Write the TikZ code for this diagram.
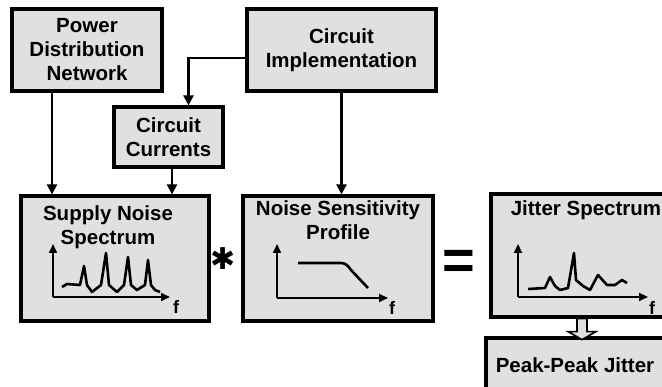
\documentclass[tikz,border=0pt]{standalone}
\usepackage{fontspec}
\setmainfont{Liberation Sans}
\newfontfamily\symfont{DejaVu Sans}
\usetikzlibrary{arrows.meta,positioning}

\tikzset{
  block/.style={draw, line width=3.2pt, fill=black!12, inner sep=0pt},
  lbl/.style={font=\fontsize{20.5}{24}\selectfont\bfseries, align=center, inner sep=0pt},
  arr/.style={line width=2.3pt, -{Triangle[length=10pt,width=10pt]}},
  axis/.style={line width=2.2pt, -{Triangle[length=9pt,width=8pt]}},
  curve/.style={line width=2.6pt, line join=round},
  flbl/.style={font=\fontsize{18}{18}\selectfont\bfseries, inner sep=0pt, anchor=north west},
  blockarr/.style={line width=1.6pt, fill=black!12, line join=miter},
}

\begin{document}
\begin{tikzpicture}[x=1pt,y=-1pt]
  \useasboundingbox (0,0) rectangle (662,387);
  \clip (0,0) rectangle (662,387);

  % upper row
  \node[block, lbl, minimum width=150pt, minimum height=82pt] (pdn) at (87,50) {Power\\Distribution\\Network};
  \node[block, lbl, minimum width=189pt, minimum height=82pt] (ci) at (341.5,50) {Circuit\\Implementation};
  \node[block, lbl, minimum width=109pt, minimum height=60pt] (cc) at (168.5,137) {Circuit\\Currents};

  % spectra
  \node[block, minimum width=188pt, minimum height=125pt] (sns) at (115,258.5) {};
  \node[block, minimum width=190pt, minimum height=125pt] (nsp) at (338,258.5) {};
  \node[block, minimum width=190pt, minimum height=123pt] (js) at (586,255.5) {};
  \node[block, lbl, minimum width=178pt, minimum height=54pt] (ppj) at (575,365) {Peak-Peak Jitter};

  \node[lbl, below=11pt of sns.north, xshift=-7pt] (snsTitle) {Supply Noise\\Spectrum};
  \node[lbl, below=6.5pt of nsp.north] (nspTitle) {Noise Sensitivity\\Profile};
  \node[lbl, below=8.5pt of js.north] (jsTitle) {Jitter Spectrum};

  \node[font=\symfont\fontsize{30}{30}\selectfont] (conv) at (223,259) {✱};
  \node[font=\fontsize{56}{56}\selectfont\bfseries] (eq) at (459,265) {=};

  % connectors
  \draw[arr] ([xshift=-35pt]pdn.south) -- ([xshift=-35pt]pdn.south |- sns.north);
  \draw[arr] ([yshift=-8pt]ci.west) -| ([xshift=20pt]cc.north);
  \draw[arr] (ci.south) -- (ci.south |- nsp.north);
  \draw[arr] ([xshift=3.5pt]cc.south) -- ([xshift=3.5pt]cc.south |- sns.north);
  \draw[blockarr] ([xshift=-9pt]js.south) -- ++(0,13) -- ++(-9,0) -- ++(14,8) -- ++(14,-8) -- ++(-9,0) -- ++(0,-13) -- cycle;

  % supply noise plot
  \draw[axis] (53,297) -- (53,244);
  \draw[axis] (53,297) -- (170,297);
  \node[flbl] (f1) at (173,300) {f};
  \draw[curve] (62,287) -- (67,284) -- (80,285) -- (84,266) -- (87,285) -- (92,292) -- (101,285)
    -- (106,253) -- (109,285) -- (117,292) -- (124,285) -- (128,257) -- (131,285) -- (137,290)
    -- (145,285) -- (148,260) -- (151,285) -- (155,290) -- (160,292);

  % sensitivity plot
  \draw[axis] (277,298) -- (277,244);
  \draw[axis] (277,298) -- (388,298);
  \node[flbl] (f2) at (389,301) {f};
  \draw[curve] (298,263) -- (341,263) .. controls (346,263) and (348,266) .. (351,270) -- (368,288);

  % jitter plot
  \draw[axis] (518,297) -- (518,244);
  \draw[axis] (518,297) -- (648,297);
  \node[flbl] (f3) at (649,301) {f};
  \draw[curve] (528,289) -- (545,288) -- (550,277) -- (555,286) -- (560,290) -- (568,288)
    -- (574,253) -- (576,280) -- (583,286) -- (590,290) -- (598,275) -- (607,285) -- (615,285)
    -- (622,280) -- (627,283);
\end{tikzpicture}
\end{document}
